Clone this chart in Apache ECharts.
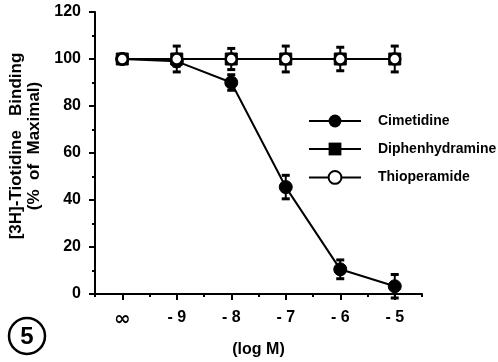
<!DOCTYPE html>
<html>
<head>
<meta charset="utf-8">
<script src="https://cdn.jsdelivr.net/npm/echarts@6/dist/echarts.min.js"></script>
<style>html,body{margin:0;padding:0;background:#fff}#c{width:498px;height:362px}</style>
</head>
<body>
<div id="c"></div>
<script>
// ---- data ----
const xTickValues = [-10, -9, -8, -7, -6, -5];
const xTickLabels = ['\u221E', '- 9', '- 8', '- 7', '- 6', '- 5'];
const logM = [-10, -9, -8, -7, -6, -5]; // -10 position stands for "∞" (no drug)
const cimetidine = [100, 99, 90, 45.5, 10.5, 3.3];
const cimetidineErr = [0, 2, 3.3, 5, 4, 5];
const diphenhydramine = [100, 100, 100, 100, 100, 100];
const thioperamide = [100, 100, 100, 100, 100, 100];
const thioperamideErr = [0, 5.5, 4.5, 5.5, 5, 5.5];
const yTicks = [0, 20, 40, 60, 80, 100, 120];

const FONT = 'Liberation Sans';
const pairs = (xs, ys) => xs.map((x, i) => [x, ys[i]]);
const triples = (xs, ys, es) => xs.map((x, i) => [x, ys[i], es[i]]);

function errRender(params, api) {
  const x = api.value(0), y = api.value(1), e = api.value(2);
  if (!e) return null;
  const top = api.coord([x, y + e]);
  const bot = api.coord([x, y - e]);
  const hw = 4;
  const st = { stroke: '#000', lineWidth: 3 };
  return {
    type: 'group',
    children: [
      { type: 'line', shape: { x1: top[0], y1: top[1], x2: bot[0], y2: bot[1] }, style: { stroke: '#000', lineWidth: 2 } },
      { type: 'line', shape: { x1: top[0] - hw, y1: top[1], x2: top[0] + hw, y2: top[1] }, style: st },
      { type: 'line', shape: { x1: bot[0] - hw, y1: bot[1], x2: bot[0] + hw, y2: bot[1] }, style: st }
    ]
  };
}

const chart = echarts.init(document.getElementById('c'), null, { renderer: 'canvas' });
chart.setOption({
  backgroundColor: '#fff',
  animation: false,
  textStyle: { fontFamily: FONT, fontWeight: 'bold', color: '#000' },
  grid: { left: 95, right: 76, top: 12, bottom: 68, containLabel: false, outerBoundsMode: 'none' },
  xAxis: [
    {
      type: 'value', min: -10.5, max: -4.5, interval: 0.5,
      axisLine: { lineStyle: { color: '#000', width: 2 } },
      axisTick: { length: 3, lineStyle: { color: '#000', width: 2 } },
      axisLabel: { show: false },
      splitLine: { show: false },
      name: '(log M)', nameLocation: 'middle', nameGap: 48,
      nameTextStyle: { fontFamily: FONT, fontWeight: 'bold', fontSize: 16, color: '#000' }
    },
    {
      type: 'value', min: -10.5, max: -4.5, position: 'bottom',
      axisLine: { show: false },
      axisTick: { show: true, length: 6, customValues: xTickValues, lineStyle: { color: '#000', width: 2 } },
      axisLabel: {
        show: true, customValues: xTickValues, margin: 16,
        fontFamily: FONT, fontWeight: 'bold', fontSize: 16, color: '#000',
        formatter: v => {
          const i = xTickValues.indexOf(v);
          if (i < 0) return '';
          return i === 0 ? '{inf|' + xTickLabels[i] + '}' : xTickLabels[i];
        },
        rich: { inf: { fontFamily: 'DejaVu Sans', fontWeight: 'bold', fontSize: 20, color: '#000', padding: [0, 0, 3, 0] } }
      },
      splitLine: { show: false }
    }
  ],
  yAxis: {
    type: 'value', min: 0, max: 120, interval: 20,
    axisLine: { show: true, lineStyle: { color: '#000', width: 2 } },
    axisTick: { show: true, length: 6, lineStyle: { color: '#000', width: 2 } },
    minorTick: { show: true, splitNumber: 2, length: 3, lineStyle: { color: '#000', width: 2 } },
    axisLabel: { margin: 14, fontFamily: FONT, fontWeight: 'bold', fontSize: 16, color: '#000',
      formatter: v => yTicks.includes(v) ? String(v) : '' },
    splitLine: { show: false },
    name: '[3H]-Tiotidine   Binding\n(%  of  Maximal)', nameLocation: 'middle', nameGap: 34,
    nameTextStyle: { fontFamily: FONT, fontWeight: 'bold', fontSize: 17, color: '#000', lineHeight: 18, padding: [0, 0, 0, 14] }
  },
  legend: {
    orient: 'vertical', left: 308, top: 114, padding: 0, itemWidth: 52, itemHeight: 16, itemGap: 14,
    data: ['Cimetidine', 'Diphenhydramine', 'Thioperamide'],
    textStyle: { fontFamily: FONT, fontWeight: 'bold', fontSize: 14, color: '#000', padding: [0, 0, 0, 12] }
  },
  series: [
    { type: 'custom', name: 'errC', renderItem: errRender, data: triples(logM, cimetidine, cimetidineErr), z: 1, silent: true },
    { type: 'custom', name: 'errT', renderItem: errRender, data: triples(logM, thioperamide, thioperamideErr), z: 1, silent: true },
    { type: 'line', name: 'Cimetidine', data: pairs(logM, cimetidine), symbol: 'circle', symbolSize: 13,
      itemStyle: { color: '#000', borderColor: '#000' }, lineStyle: { color: '#000', width: 2 }, z: 2 },
    { type: 'line', name: 'Diphenhydramine', data: pairs(logM, diphenhydramine), symbol: 'rect', symbolSize: 12,
      itemStyle: { color: '#000', borderColor: '#000' }, lineStyle: { color: '#000', width: 2 }, z: 3 },
    { type: 'line', name: 'Thioperamide', data: pairs(logM, thioperamide), symbol: 'circle', symbolSize: 11,
      itemStyle: { color: '#fff', borderColor: '#000', borderWidth: 2.5 }, lineStyle: { color: '#000', width: 2 }, z: 4 }
  ],
  graphic: [
    { type: 'circle', shape: { cx: 27, cy: 336, r: 18 }, style: { fill: 'none', stroke: '#000', lineWidth: 2.5 } },
    { type: 'text', x: 27, y: 337, style: { text: '5', fontFamily: FONT, fontWeight: 'bold', fontSize: 24, fill: '#000', align: 'center', verticalAlign: 'middle' } }
  ]
});
</script>
</body>
</html>
